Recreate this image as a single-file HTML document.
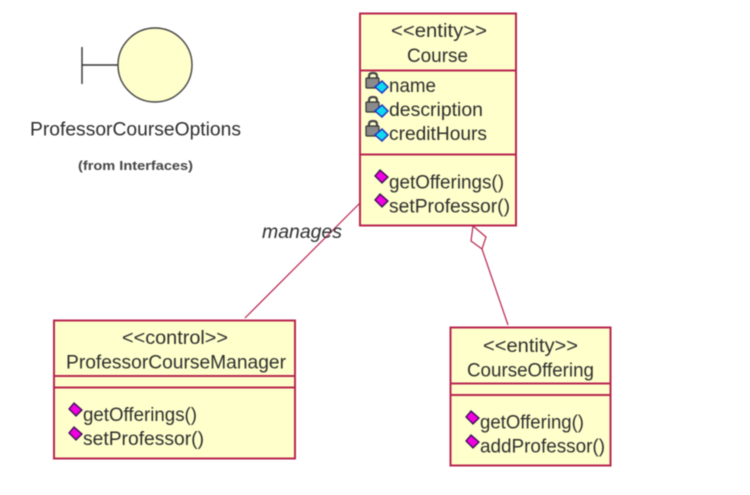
<!DOCTYPE html>
<html><head><meta charset="utf-8"><style>
html,body{margin:0;padding:0;background:#fff;width:750px;height:495px;overflow:hidden}
svg{display:block;filter:blur(.55px)}
text{font-family:"Liberation Sans",sans-serif;font-size:19.5px;fill:#2e2e2e}
.b{fill:#ffffcc;stroke:#b8264f;stroke-width:2}
.l{stroke:#b8264f;stroke-width:1.2;fill:none}
.d{stroke:#b8264f;stroke-width:2;fill:none}
</style></head><body>
<svg width="750" height="495" viewBox="0 0 750 495" xmlns="http://www.w3.org/2000/svg">
<defs>
<g id="m"><path d="M-1 -6L7 1L1 7L-6 0Z" fill="#f000e0" stroke="#30104a" stroke-width="1.3"/></g>
<g id="a">
<path d="M-3 -5V-8Q-3 -11 1 -11Q5 -11 5 -8V-5" fill="none" stroke="#444" stroke-width="2.2"/>
<rect x="-6" y="-6" width="13" height="10" rx="1" fill="#8a8a8a" stroke="#333" stroke-width="1.2"/>
<path d="M10 -3L16 3L10 9L3 3Z" fill="#10d8f0" stroke="#1a30c0" stroke-width="1.4"/>
</g>
</defs>
<rect width="750" height="495" fill="#fff"/>

<path d="M82 47V84M82 65H118" stroke="#333" stroke-width="1.4" fill="none"/>
<circle cx="155" cy="65" r="37" fill="#ffffcc" stroke="#444" stroke-width="1.4"/>
<text x="30" y="135.500" textLength="211" lengthAdjust="spacingAndGlyphs">ProfessorCourseOptions</text>
<text x="78" y="170" textLength="115" lengthAdjust="spacingAndGlyphs" style="font-size:13px;font-weight:bold;fill:#444">(from Interfaces)</text>

<path class="l" d="M360 203L245 318"/>
<path class="l" d="M482 249L508 325"/>
<path class="l" d="M473 226L486 237L482 249L471 241Z" style="fill:#fff"/>
<text x="262" y="238" textLength="80" lengthAdjust="spacingAndGlyphs" style="font-style:italic;font-size:19px">manages</text>

<rect class="b" x="360" y="13.500" width="156" height="212"/>
<path class="d" d="M360 70.500H516M360 154.500H516"/>
<text x="391" y="37" textLength="96" lengthAdjust="spacingAndGlyphs">&lt;&lt;entity&gt;&gt;</text>
<text x="407" y="62" textLength="61" lengthAdjust="spacingAndGlyphs">Course</text>
<use href="#a" x="372" y="84"/>
<use href="#a" x="372" y="108"/>
<use href="#a" x="372" y="132"/>
<text x="389" y="92" textLength="47" lengthAdjust="spacingAndGlyphs">name</text>
<text x="389" y="116" textLength="94" lengthAdjust="spacingAndGlyphs">description</text>
<text x="389" y="140" textLength="98" lengthAdjust="spacingAndGlyphs">creditHours</text>
<use href="#m" x="381" y="176"/>
<use href="#m" x="381" y="200"/>
<text x="389" y="188.500" textLength="115" lengthAdjust="spacingAndGlyphs">getOfferings()</text>
<text x="389" y="212.500" textLength="121" lengthAdjust="spacingAndGlyphs">setProfessor()</text>

<rect class="b" x="54" y="320.500" width="241" height="138"/>
<path class="d" d="M54 376H295M54 387.500H295"/>
<text x="122" y="344" textLength="106" lengthAdjust="spacingAndGlyphs">&lt;&lt;control&gt;&gt;</text>
<text x="66" y="368.500" textLength="220" lengthAdjust="spacingAndGlyphs">ProfessorCourseManager</text>
<use href="#m" x="75" y="409"/>
<use href="#m" x="75" y="433"/>
<text x="83" y="421" textLength="114" lengthAdjust="spacingAndGlyphs">getOfferings()</text>
<text x="83" y="445" textLength="121" lengthAdjust="spacingAndGlyphs">setProfessor()</text>

<rect class="b" x="450.500" y="327.500" width="160" height="138"/>
<path class="d" d="M450 383.500H611M450 395H611"/>
<text x="483" y="352" textLength="95" lengthAdjust="spacingAndGlyphs">&lt;&lt;entity&gt;&gt;</text>
<text x="467" y="376.500" textLength="127" lengthAdjust="spacingAndGlyphs">CourseOffering</text>
<use href="#m" x="472" y="417"/>
<use href="#m" x="472" y="441"/>
<text x="480" y="428.500" textLength="104" lengthAdjust="spacingAndGlyphs">getOffering()</text>
<text x="480" y="452.500" textLength="125" lengthAdjust="spacingAndGlyphs">addProfessor()</text>
</svg>
</body></html>
